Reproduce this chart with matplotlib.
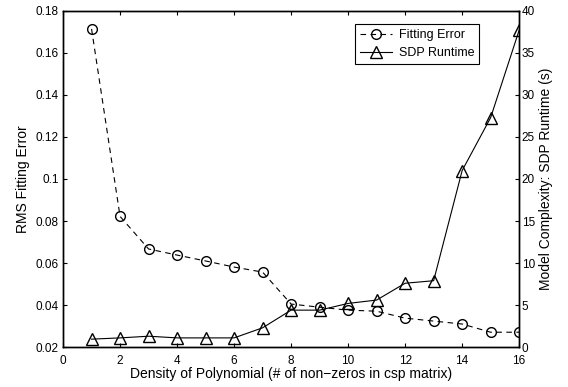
import numpy as np
import matplotlib.pyplot as plt

plt.rcParams['font.family'] = ['Liberation Sans', 'DejaVu Sans']

# density (# of non-zeros in csp matrix)
density = [1, 2, 3, 4, 5, 6, 7, 8, 9, 10, 11, 12, 13, 14, 15, 16]
# RMS fitting error
fit_err = [0.1714, 0.0822, 0.0667, 0.0638, 0.0610, 0.0581, 0.0557, 0.0405,
           0.0390, 0.0376, 0.0371, 0.0338, 0.0324, 0.0310, 0.0271, 0.0271]
# SDP runtime (s)
runtime = [0.95, 1.1, 1.3, 1.1, 1.1, 1.1, 2.3, 4.4, 4.4, 5.2, 5.6, 7.6, 7.9,
           21.0, 27.3, 37.7]

fig = plt.figure(figsize=(5.68, 3.87), dpi=100)
ax = fig.add_axes([0.111, 0.103, 0.803, 0.869])
ax2 = ax.twinx()

l1, = ax.plot(density, fit_err, color='black', linestyle='--', linewidth=0.8,
              marker='o', markersize=7, markerfacecolor='none', dashes=(5, 4))
l2, = ax2.plot(density, runtime, color='black', linestyle='-', linewidth=0.8,
               marker='^', markersize=8, markerfacecolor='none')

ax.set_xlim(0, 16)
ax.set_ylim(0.02, 0.18)
ax2.set_ylim(0, 40)
ax.set_xticks(np.arange(0, 17, 2))
yt = np.arange(0.02, 0.181, 0.02)
ax.set_yticks(yt)
ax.set_yticklabels(['%g' % round(v, 2) for v in yt])
ax2.set_yticks(np.arange(0, 41, 5))

for a in (ax, ax2):
    for s in a.spines.values():
        s.set_linewidth(1.0)
ax.tick_params(direction='in', labelsize=8.5, top=True, length=3, pad=3)
ax.tick_params(axis='x', pad=6)
ax2.tick_params(direction='in', labelsize=8.5, length=3, pad=2)

ax.set_xlabel('Density of Polynomial (# of non\u2212zeros in csp matrix)', fontsize=10, labelpad=0)
ax.set_ylabel('RMS Fitting Error', fontsize=10, labelpad=4)
ax2.set_ylabel('Model Complexity: SDP Runtime (s)', fontsize=10, labelpad=3)

leg = ax2.legend([l1, l2], ['Fitting Error', 'SDP Runtime'], loc='upper right',
                 bbox_to_anchor=(0.926, 0.978), fontsize=9, fancybox=False,
                 framealpha=1, edgecolor='black', handlelength=2.6,
                 borderpad=0.4, labelspacing=0.45, handletextpad=0.5)
leg.get_frame().set_linewidth(0.8)

fig.savefig('out.png', dpi=100)
